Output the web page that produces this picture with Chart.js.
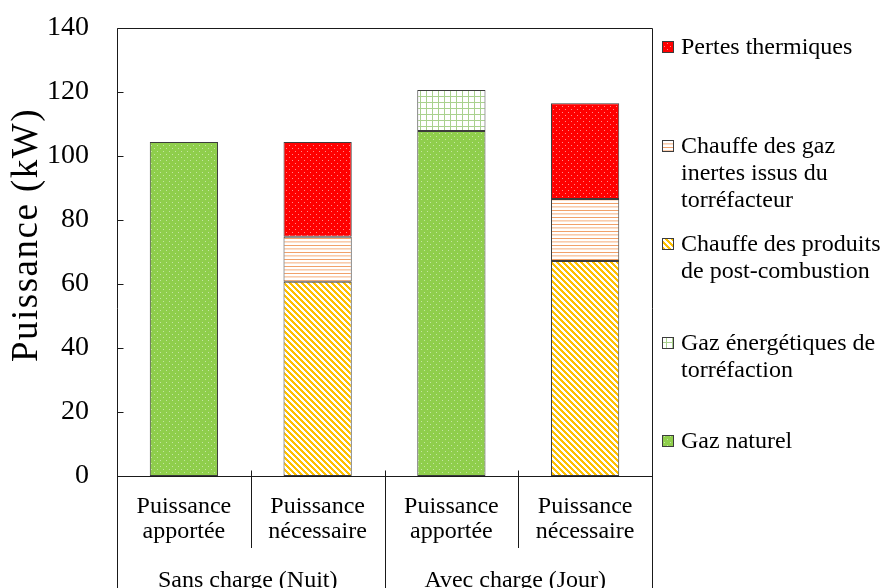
<!DOCTYPE html>
<html>
<head>
<meta charset="utf-8">
<script src="https://cdn.jsdelivr.net/npm/chart.js@4.4.1/dist/chart.umd.min.js"></script>
<style>
  html, body { margin: 0; padding: 0; background: #ffffff; }
  #wrap { width: 888px; height: 588px; }
</style>
</head>
<body>
<div id="wrap"><canvas id="c" width="888" height="588"></canvas></div>
<script>
// Categories (two-line tick labels) and the two groups below them
const categories = [
  ["Puissance", "apportée"],
  ["Puissance", "nécessaire"],
  ["Puissance", "apportée"],
  ["Puissance", "nécessaire"]
];
const groups = ["Sans charge (Nuit)", "Avec charge (Jour)"];

// Power values in kW, one entry per category
const gazNaturel       = [104.4, null, 107.8, null];
const gazEnergetiques  = [null, null, 12.8, null];
const chauffeProduits  = [null, 60.7, null, 67.2];
const chauffeInertes   = [null, 14.1, null, 19.4];
const pertesThermiques = [null, 29.6, null, 29.9];

// Series names, with the line breaks used in the legend
const seriesNames = [
  ["Gaz naturel"],
  ["Gaz énergétiques de", "torréfaction"],
  ["Chauffe des produits", "de post-combustion"],
  ["Chauffe des gaz", "inertes issus du", "torréfacteur"],
  ["Pertes thermiques"]
];

const yTicks = [0, 20, 40, 60, 80, 100, 120, 140];
const yTitle = "Puissance (kW)";

const FONT = "'Liberation Serif', 'Times New Roman', serif";
const canvas = document.getElementById('c');
const ctx = canvas.getContext('2d');

// ---- fill patterns ----
function makePattern(w, h, paint) {
  const t = document.createElement('canvas');
  t.width = w; t.height = h;
  const g = t.getContext('2d');
  paint(g, w, h);
  return ctx.createPattern(t, 'repeat');
}
function dotted(base, dot) {
  return makePattern(6, 6, (g) => {
    g.fillStyle = base; g.fillRect(0, 0, 6, 6);
    g.fillStyle = dot;
    g.fillRect(1, 1, 1, 1);
    g.fillRect(4, 4, 1, 1);
  });
}
const greenFill = dotted('#8fce4c', '#c4e6a2');
const redFill = dotted('#ff0000', '#ff8a8a');
const stripeFill = makePattern(6, 6, (g) => {
  g.fillStyle = '#ffffff'; g.fillRect(0, 0, 6, 6);
  g.fillStyle = '#ffc000';
  for (let y = 0; y < 6; y++) for (let x = 0; x < 6; x++) {
    const d = ((x - y) % 6 + 6) % 6;
    if (d < 3) g.fillRect(x, y, 1, 1);
  }
});
const gridFill = makePattern(6, 6, (g) => {
  g.fillStyle = '#ffffff'; g.fillRect(0, 0, 6, 6);
  g.fillStyle = '#a9d18e';
  g.fillRect(0, 0, 6, 1);
  g.fillRect(0, 0, 1, 6);
});
const hlineFill = makePattern(4, 7, (g) => {
  g.fillStyle = '#ffffff'; g.fillRect(0, 0, 4, 7);
  g.fillStyle = '#f1a16a'; g.fillRect(0, 0, 4, 1);
  g.fillStyle = '#f9ccad'; g.fillRect(0, 3, 4, 1);
  g.fillStyle = '#fbe0cc'; g.fillRect(0, 4, 4, 1);
});

const fills = [greenFill, gridFill, stripeFill, hlineFill, redFill];
const seriesData = [gazNaturel, gazEnergetiques, chauffeProduits, chauffeInertes, pertesThermiques];
const EDGE = '#3c3c3c';

const datasets = seriesData.map((d, i) => ({
  label: seriesNames[i].join(' '),
  data: d,
  backgroundColor: fills[i],
  borderColor: EDGE,
  borderWidth: 1,
  borderSkipped: false,
  categoryPercentage: 1.0,
  barPercentage: 0.51
}));

// Frame, inside ticks, group separators, group labels and axis title
const framePlugin = {
  id: 'frame',
  afterDraw(chart) {
    const c = chart.ctx;
    const a = chart.chartArea;
    const xs = chart.scales.x, ys = chart.scales.y;
    const H = chart.height;
    const L = Math.round(a.left) + 0.5, R = Math.round(a.right) + 0.5;
    const T = Math.round(a.top) + 0.5, B = Math.round(a.bottom) + 0.5;
    c.save();
    c.strokeStyle = '#1a1a1a';
    c.lineWidth = 1;
    c.beginPath();
    // box
    c.moveTo(L, H); c.lineTo(L, T); c.lineTo(R, T); c.lineTo(R, H);
    c.moveTo(L, B); c.lineTo(R, B);
    // y ticks pointing inwards
    yTicks.forEach(v => {
      const y = Math.round(ys.getPixelForValue(v)) + 0.5;
      c.moveTo(L, y); c.lineTo(L + 6, y);
    });
    // separators between categories
    for (let i = 0; i < categories.length - 1; i++) {
      const x = Math.round((xs.getPixelForValue(i) + xs.getPixelForValue(i + 1)) / 2) + 0.5;
      const groupEdge = (i % 2 === 1);
      c.moveTo(x, B - 6);
      c.lineTo(x, groupEdge ? H : 548);
    }
    c.stroke();
    // group labels
    c.fillStyle = '#000';
    c.font = '24px ' + FONT;
    c.textAlign = 'center';
    c.textBaseline = 'alphabetic';
    groups.forEach((g, gi) => {
      const x = (xs.getPixelForValue(gi * 2) + xs.getPixelForValue(gi * 2 + 1)) / 2;
      c.fillText(g, x - 3, 587);
    });
    // rotated y-axis title
    c.translate(27, 235);
    c.rotate(-Math.PI / 2);
    c.font = '37px ' + FONT;
    c.letterSpacing = '1.5px';
    c.textAlign = 'center';
    c.textBaseline = 'middle';
    c.fillText(yTitle, 0, 0);
    c.restore();
  }
};

// Legend on the right, last series on top
const legendPlugin = {
  id: 'sideLegend',
  afterDraw(chart) {
    const c = chart.ctx;
    const ds = chart.data.datasets;
    const boxX = 662, textX = 681, box = 12;
    const firstY = 47, step = 98.5, lineH = 27;
    c.save();
    c.font = '24px ' + FONT;
    c.fillStyle = '#000';
    c.textAlign = 'left';
    c.textBaseline = 'middle';
    for (let k = 0; k < ds.length; k++) {
      const i = ds.length - 1 - k;
      const y = firstY + k * step;
      c.fillStyle = ds[i].backgroundColor;
      c.fillRect(boxX, Math.round(y - box / 2), box, box);
      c.strokeStyle = EDGE;
      c.lineWidth = 1;
      c.strokeRect(boxX + 0.5, Math.round(y - box / 2) + 0.5, box - 1, box - 1);
      c.fillStyle = '#000';
      seriesNames[i].forEach((line, j) => c.fillText(line, textX, y + j * lineH + 1));
    }
    c.restore();
  }
};

new Chart(ctx, {
  type: 'bar',
  data: { labels: categories, datasets },
  options: {
    responsive: false,
    animation: false,
    layout: { padding: { top: 28, right: 236, left: 0, bottom: 0 } },
    plugins: { legend: { display: false }, tooltip: { enabled: false } },
    scales: {
      x: {
        stacked: true,
        grid: { display: false },
        border: { display: false },
        ticks: {
          color: '#000',
          font: { family: FONT, size: 24, lineHeight: 1.05 },
          padding: 10,
          maxRotation: 0,
          autoSkip: false
        },
        afterFit(s) { s.height = 112; s.paddingLeft = 0; s.paddingRight = 0; }
      },
      y: {
        stacked: true,
        min: 0,
        max: 140,
        grid: { display: false },
        border: { display: false },
        afterBuildTicks(s) { s.ticks = yTicks.map(v => ({ value: v })); },
        ticks: {
          color: '#000',
          font: { family: FONT, size: 28 },
          padding: 20
        },
        afterFit(s) { s.width = 117; s.paddingTop = 0; s.paddingBottom = 0; }
      }
    }
  },
  plugins: [framePlugin, legendPlugin]
});
</script>
</body>
</html>
